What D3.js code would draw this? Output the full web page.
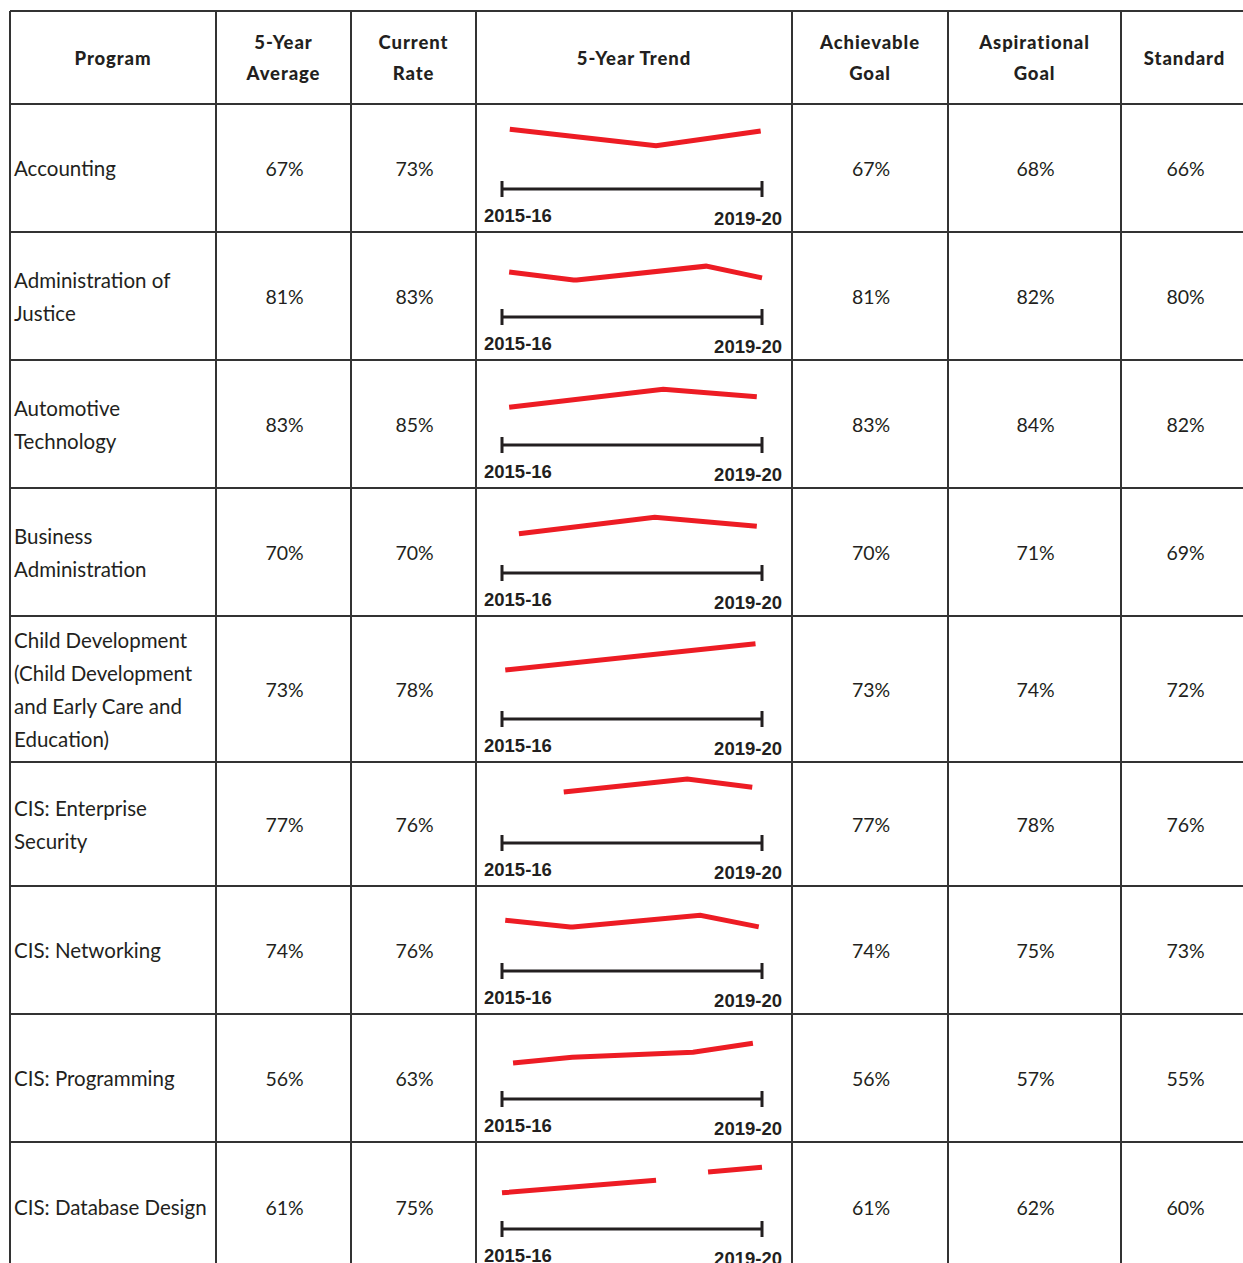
<!DOCTYPE html>
<html><head><meta charset="utf-8">
<script src="https://cdn.jsdelivr.net/npm/d3@7"></script>
<style>body{margin:0;background:#fff;overflow:hidden} svg{display:block}</style>
</head><body><svg id="c" width="1243" height="1263"></svg>
<script>
// ---------- data ----------
const headers = [["Program"],["5-Year","Average"],["Current","Rate"],["5-Year Trend"],["Achievable","Goal"],["Aspirational","Goal"],["Standard"]];
const programs = [
  ["Accounting"],
  ["Administration of","Justice"],
  ["Automotive","Technology"],
  ["Business","Administration"],
  ["Child Development","(Child Development","and Early Care and","Education)"],
  ["CIS: Enterprise","Security"],
  ["CIS: Networking"],
  ["CIS: Programming"],
  ["CIS: Database Design"]
];
const fiveYearAverage  = [67,81,83,70,73,77,74,56,61];
const currentRate      = [73,83,85,70,78,76,76,63,75];
const achievableGoal   = [67,81,83,70,73,77,74,56,61];
const aspirationalGoal = [68,82,84,71,74,78,75,57,62];
const standardRate     = [66,80,82,69,72,76,73,55,60];
const trendLabels = ["2015-16","2019-20"];
// sparkline points: t = position on the 2015-16 .. 2019-20 axis (years), v = relative level (null = gap)
const trendT = [
  [0.12,2.37,3.98],
  [0.11,1.1,1.15,3.14,4.0],
  [0.11,2.48,3.92],
  [0.26,2.35,3.92],
  [0.05,3.9],
  [0.95,2.85,3.85],
  [0.05,1.05,1.09,3.05,3.95],
  [0.17,1.08,2.94,3.86],
  [0.0,2.37,2.8,3.17,4.0]
];
const trendV = [
  [7.3,3.6,6.9],
  [4.0,2.2,2.2,5.3,2.7],
  [2.4,6.4,4.7],
  [2.7,6.4,4.4],
  [0.9,6.7],
  [6.2,9.1,7.3],
  [5.3,3.8,3.8,6.4,3.8],
  [2.0,3.3,4.4,6.4],
  [1.6,4.4,null,6.2,7.3]
];

// ---------- layout ----------
const colEdges = [10,216,351,476,792,948,1121,1248];
const rowEdges = [11,104,232,360,488,616,762,886,1014,1142,1272];
const bodyFont = "Lato, 'Open Sans', sans-serif";
const ink = "#231f20";
const svg = d3.select("#c");

const cx = i => (colEdges[i]+colEdges[i+1])/2;

// header
const hg = svg.append("g");
headers.forEach((lines,i)=>{
  const mid = (rowEdges[0]+rowEdges[1])/2;
  const lh = 31;
  const t = hg.append("text").attr("x",cx(i)).attr("text-anchor","middle")
    .attr("font-family",bodyFont).attr("font-weight",900).attr("font-size",18.5)
    .attr("letter-spacing","0.9px").attr("fill",ink);
  lines.forEach((s,k)=>{
    t.append("tspan").attr("x",cx(i)).attr("y",mid + 1 + (k-(lines.length-1)/2)*lh).attr("dy","0.35em").text(s);
  });
});

// body rows
const numCols = [[1,fiveYearAverage],[2,currentRate],[4,achievableGoal],[5,aspirationalGoal],[6,standardRate]];
programs.forEach((lines,r)=>{
  const top = rowEdges[r+1], bot = rowEdges[r+2];
  const mid = (top+bot)/2;
  const g = svg.append("g");
  const t = g.append("text").attr("x",14).attr("font-family",bodyFont).attr("font-size",20.5).attr("fill",ink);
  lines.forEach((s,k)=>{
    t.append("tspan").attr("x",14).attr("y",mid + 1 + (k-(lines.length-1)/2)*33).attr("dy","0.35em").text(s);
  });
  numCols.forEach(([ci,arr])=>{
    g.append("text").attr("x",cx(ci)+1).attr("y",mid+1).attr("dy","0.35em").attr("text-anchor","middle")
      .attr("font-family",bodyFont).attr("font-size",19.5).attr("fill",ink).text(arr[r]+"%");
  });

  // sparkline
  const x = d3.scaleLinear().domain([0,4]).range([502,762]);
  const y = d3.scaleLinear().domain([0,10]).range([top+58, top+13]);
  const axY = bot-43;
  g.append("line").attr("x1",x(0)).attr("x2",x(4)).attr("y1",axY).attr("y2",axY)
    .attr("stroke",ink).attr("stroke-width",3);
  [0,4].forEach(v=>{
    g.append("line").attr("x1",x(v)).attr("x2",x(v)).attr("y1",axY-8).attr("y2",axY+8)
      .attr("stroke",ink).attr("stroke-width",3);
  });
  g.append("text").attr("x",x(0)-18).attr("y",axY+33).attr("font-family","'Liberation Sans', Arial, sans-serif")
    .attr("font-weight",700).attr("font-size",18.5).attr("fill",ink).text(trendLabels[0]);
  g.append("text").attr("x",x(4)+20).attr("y",axY+36).attr("text-anchor","end").attr("font-family","'Liberation Sans', Arial, sans-serif")
    .attr("font-weight",700).attr("font-size",18.5).attr("fill",ink).text(trendLabels[1]);
  const pts = trendT[r].map((tt,k)=>({t:tt,v:trendV[r][k]}));
  const line = d3.line().defined(d=>d.v!==null).x(d=>x(d.t)).y(d=>y(d.v));
  g.append("path").attr("d",line(pts)).attr("fill","none").attr("stroke","#ed1c24")
    .attr("stroke-width",5).attr("stroke-linejoin","miter");
});

// grid lines
const grid = svg.append("g").attr("stroke","#333").attr("stroke-width",2);
colEdges.forEach(xv=>{
  grid.append("line").attr("x1",xv).attr("x2",xv).attr("y1",rowEdges[0]).attr("y2",rowEdges[rowEdges.length-1]);
});
rowEdges.forEach(yv=>{
  grid.append("line").attr("x1",colEdges[0]).attr("x2",colEdges[colEdges.length-1]).attr("y1",yv).attr("y2",yv);
});
</script></body></html>
